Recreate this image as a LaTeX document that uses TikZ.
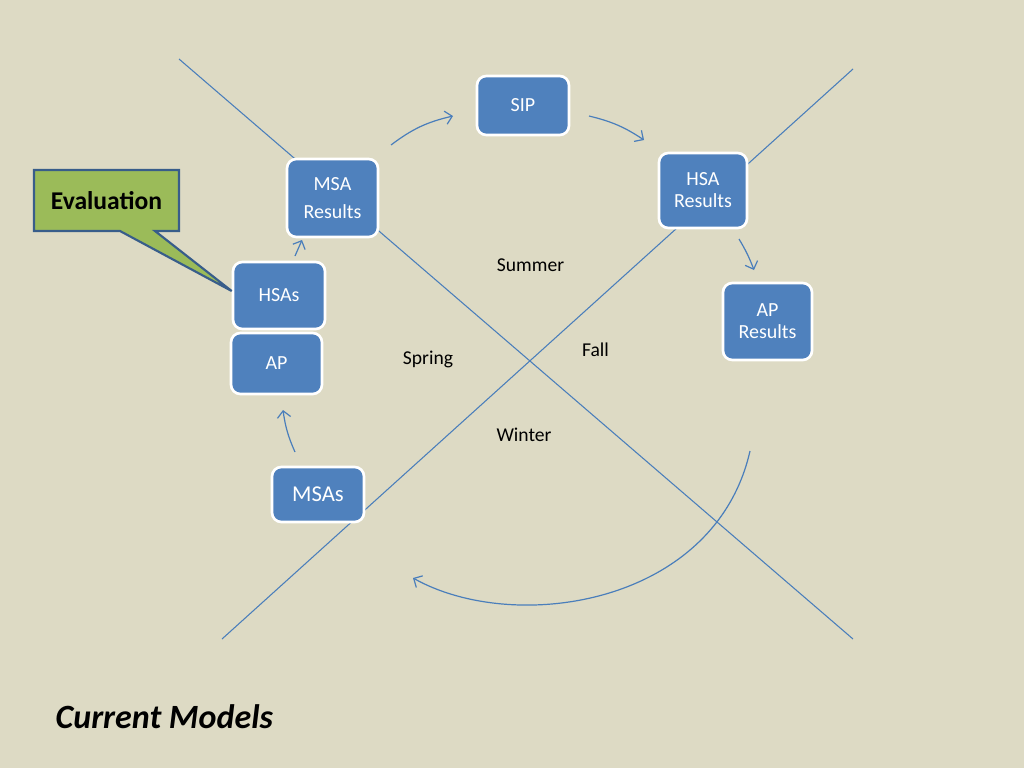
\documentclass[tikz,border=0pt]{standalone}
\usepackage{fontspec}
\setmainfont{Carlito}
\usetikzlibrary{arrows.meta}
\definecolor{bg}{RGB}{221,218,196}
\definecolor{boxblue}{RGB}{79,129,189}
\definecolor{lineblue}{RGB}{74,126,187}
\definecolor{callgreen}{RGB}{155,187,89}
\definecolor{callborder}{RGB}{56,93,138}
\tikzset{
  stage/.style={draw=white, line width=2pt, fill=boxblue, rounded corners=7pt,
    text=white, font=\fontsize{15}{16.5}\selectfont, align=center, inner sep=0pt},
  divider/.style={draw=lineblue, line width=0.8pt},
  season/.style={font=\fontsize{14.7}{16}\selectfont, text=black},
  flow/.style={draw=lineblue, line width=0.9pt, -{Straight Barb[length=5pt,width=10pt]}},
}
\begin{document}
\begin{tikzpicture}[x=0.75pt,y=-0.75pt]
\fill[bg] (0,0) rectangle (1024,768);
\useasboundingbox (0,0) rectangle (1024,768);
% dividing lines
\coordinate (l1a) at (179,59);
\coordinate (l1b) at (853,639);
\coordinate (l2a) at (853,69);
\coordinate (l2b) at (222,639);
\draw[divider] (l1a) -- (l1b);
\draw[divider] (l2a) -- (l2b);
% boxes
\node[stage, minimum width=69pt, minimum height=44.25pt] (sip) at (523,105.5) {SIP};
\node[stage, minimum width=68.25pt, minimum height=58.5pt, font=\fontsize{15}{21.5}\selectfont] (msar) at (332.5,198) {MSA\\Results};
\node[stage, minimum width=66pt, minimum height=56.25pt] (hsar) at (703,190.5) {HSA\\Results};
\node[stage, minimum width=66.75pt, minimum height=57.75pt] (apr) at (767.5,321.5) {AP\\Results};
\node[stage, minimum width=69pt, minimum height=50.25pt] (hsas) at (279,295.5) {HSAs};
\node[stage, minimum width=68.25pt, minimum height=45.75pt] (ap) at (276.5,363.5) {AP};
\node[stage, minimum width=69pt, minimum height=41.25pt, font=\fontsize{17}{18}\selectfont] (msas) at (318,494.5) {MSAs};
% seasons
\node[season] (summer) at (530.5,265) {Summer};
\node[season] (spring) at (428,359) {Spring};
\node[season] (fall) at (595.5,350) {Fall};
\node[season] (winter) at (524,435) {Winter};
% arrows
\coordinate (a1s) at (391,145);
\coordinate (a1e) at (453,116);
\coordinate (a2s) at (589,116);
\coordinate (a2e) at (644,140);
\coordinate (a3s) at (739,239);
\coordinate (a3e) at (754,270);
\coordinate (a4s) at (295,452);
\coordinate (a4e) at (283,410);
\coordinate (a5s) at (295,256);
\coordinate (a5e) at (302,240);
\coordinate (a6s) at (750,451);
\coordinate (a6e) at (413,578);
\draw[flow] (a1s) to[bend left=12] (a1e);
\draw[flow] (a2s) to[bend left=10] (a2e);
\draw[flow] (a3s) to[bend left=5] (a3e);
\draw[flow] (a4s) to[bend left=8] (a4e);
\draw[flow] (a5s) -- (a5e);
\draw[flow] (a6s) .. controls (715,605) and (515,635) .. (a6e);
% callout
\draw[fill=callgreen, draw=callborder, line width=1.6pt, line join=miter]
  (34,170) -- (179,170) -- (179,231) -- (155,231) -- (hsas.west |- 0,291) -- (120,231) -- (34,231) -- cycle;
\node[font=\fontsize{19.2}{21}\bfseries, text=black] (evaluation) at (106.5,200.5) {Evaluation};
% title
\node[font=\fontsize{25.5}{28}\bfseries\itshape, text=black, anchor=west] (title) at (51,717) {Current Models};
\end{tikzpicture}
\end{document}
